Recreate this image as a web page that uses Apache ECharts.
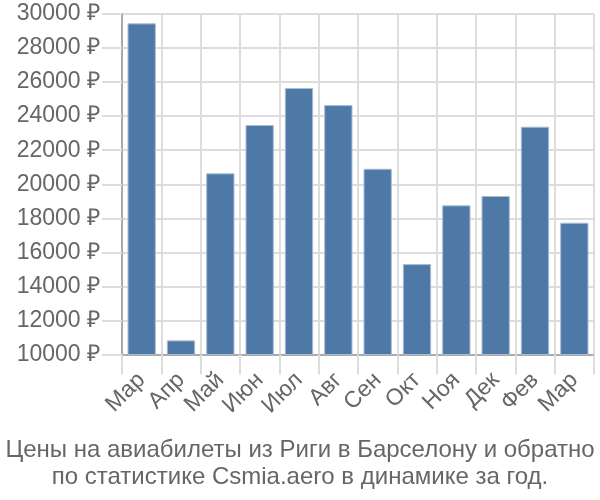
<!DOCTYPE html>
<html>
<head>
<meta charset="utf-8">
<script src="https://cdn.jsdelivr.net/npm/echarts@6/dist/echarts.min.js"></script>
<style>html,body{margin:0;padding:0;background:#fff}#c{width:600px;height:500px}</style>
</head>
<body>
<div id="c"></div>
<script>
const categories = ['Мар','Апр','Май','Июн','Июл','Авг','Сен','Окт','Ноя','Дек','Фев','Мар'];
const prices = [29450, 10830, 20640, 23480, 25650, 24650, 20910, 15310, 18760, 19310, 23380, 17740];
const yTicks = [10000, 12000, 14000, 16000, 18000, 20000, 22000, 24000, 26000, 28000, 30000];
const titleLines = ['Цены на авиабилеты из Риги в Барселону и обратно', 'по статистике Csmia.aero в динамике за год.'];

const font = 'Liberation Sans, Arial, sans-serif';
const chart = echarts.init(document.getElementById('c'), null, {renderer: 'canvas'});
chart.setOption({
  animation: false,
  title: {
    text: titleLines.join('\n'),
    left: 'center',
    top: 432,
    textStyle: {fontFamily: font, fontSize: 24, fontWeight: 'normal', color: '#666', lineHeight: 27}
  },
  grid: {left: 122, right: 6, top: 14, bottom: 145.5},
  xAxis: {
    type: 'category',
    data: categories,
    axisLine: {lineStyle: {color: '#aaa', width: 2}},
    axisTick: {show: true, length: 20, interval: 0, lineStyle: {color: '#ddd', width: 2}},
    splitLine: {show: true, interval: 0, lineStyle: {color: '#ddd', width: 2}},
    axisLabel: {rotate: 45, margin: 22, interval: 0, hideOverlap: false, fontFamily: font, fontSize: 23, color: '#666'}
  },
  yAxis: {
    type: 'value',
    min: yTicks[0],
    max: yTicks[yTicks.length - 1],
    interval: 2000,
    axisLine: {show: true, lineStyle: {color: '#aaa', width: 2}},
    axisTick: {show: true, length: 20, lineStyle: {color: '#ddd', width: 2}},
    splitLine: {show: true, lineStyle: {color: '#ddd', width: 2}},
    axisLabel: {margin: 22, fontFamily: font, fontSize: 23, color: '#666', formatter: v => v + ' ₽'}
  },
  series: [{
    type: 'bar',
    data: prices,
    barCategoryGap: '28%',
    itemStyle: {color: '#4e79a7', borderColor: '#a9bcd3', borderWidth: 1}
  }]
});
</script>
</body>
</html>
